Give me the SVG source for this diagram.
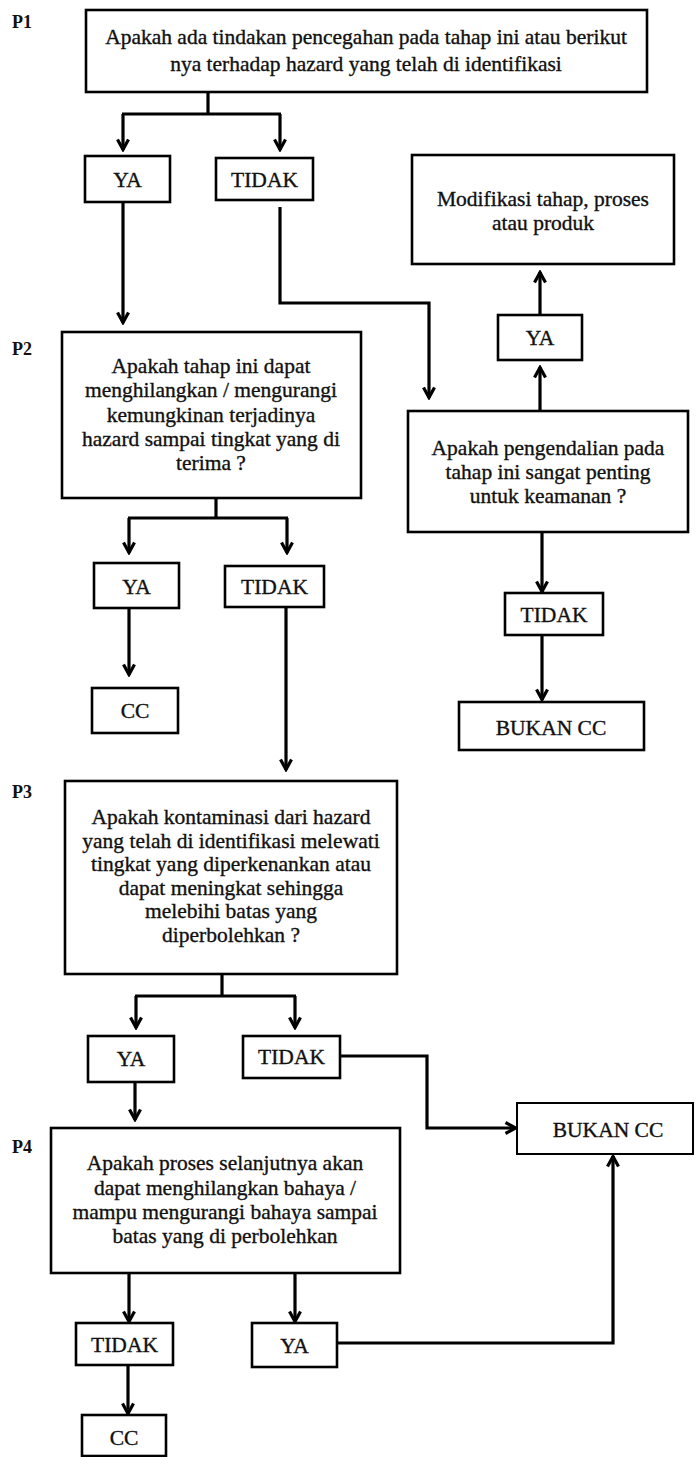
<svg xmlns="http://www.w3.org/2000/svg" width="696" height="1457" viewBox="0 0 696 1457">
<style>
.box{fill:#fff;stroke:#000;stroke-width:2.6}
.thin{fill:#fff;stroke:#000;stroke-width:2}
.t{font-family:"Liberation Serif","Times New Roman","DejaVu Serif",serif;font-size:21.5px;fill:#111;stroke:#111;stroke-width:0.35;text-anchor:middle}
.lbl{font-family:"Liberation Serif","Times New Roman","DejaVu Serif",serif;font-size:18px;font-weight:bold;fill:#111}
.c{fill:none;stroke:#000;stroke-width:3.2}
.a{fill:none;stroke:#000;stroke-width:3.2;marker-end:url(#arr)}
</style>
<defs>
<marker id="arr" markerUnits="userSpaceOnUse" viewBox="0 0 14 14" refX="12" refY="7" markerWidth="14" markerHeight="14" orient="auto">
<path d="M1.5,1.5 L11.5,7 L1.5,12.5" fill="none" stroke="#000" stroke-width="3.2"/>
</marker>
</defs>

<g id="labels">
<text class="lbl" x="12" y="28">P1</text>
<text class="lbl" x="12" y="355">P2</text>
<text class="lbl" x="12" y="798">P3</text>
<text class="lbl" x="12" y="1153">P4</text>
</g>

<g id="connectors">
<path class="c" d="M208,92 V114 M122,114 H281"/>
<path class="a" d="M123,114 V150"/>
<path class="a" d="M280,114 V150"/>
<path class="a" d="M123,202 V323"/>
<path class="a" d="M280,207 V303 H429 V398"/>
<path class="a" d="M540,315 V272"/>
<path class="a" d="M540,411 V367"/>
<path class="a" d="M542,532 V592"/>
<path class="a" d="M542,635 V700"/>
<path class="c" d="M216,498 V518 M128,518 H288"/>
<path class="a" d="M129,518 V553"/>
<path class="a" d="M287,518 V553"/>
<path class="a" d="M129,608 V675"/>
<path class="a" d="M286,607 V770"/>
<path class="c" d="M222,974 V996 M135,996 H296"/>
<path class="a" d="M136,996 V1028"/>
<path class="a" d="M295,996 V1028"/>
<path class="a" d="M340,1056 H427 V1128 H516"/>
<path class="a" d="M135,1082 V1120"/>
<path class="a" d="M129,1273 V1322"/>
<path class="a" d="M295,1273 V1322"/>
<path class="a" d="M337,1343 H613 V1156"/>
<path class="a" d="M128,1365 V1414"/>
</g>

<g id="q1">
<rect class="box" x="86" y="10" width="561" height="82"/>
<text class="t" x="366" y="44">Apakah ada tindakan pencegahan pada tahap ini atau berikut</text>
<text class="t" x="366" y="71">nya terhadap hazard yang telah di identifikasi</text>
</g>
<g id="q1-ya">
<rect class="box" x="85" y="156" width="85" height="46"/>
<text class="t" x="127.5" y="187">YA</text>
</g>
<g id="q1-tidak">
<rect class="box" x="216" y="158" width="97" height="42"/>
<text class="t" x="264.5" y="187">TIDAK</text>
</g>
<g id="modifikasi">
<rect class="box" x="412" y="155" width="262" height="109"/>
<text class="t" x="543" y="206">Modifikasi tahap, proses</text>
<text class="t" x="543" y="230">atau produk</text>
</g>
<g id="qr-ya">
<rect class="box" x="498" y="315" width="84" height="45"/>
<text class="t" x="540" y="345">YA</text>
</g>
<g id="qr">
<rect class="box" x="408" y="411" width="280" height="121"/>
<text class="t" x="548" y="455">Apakah pengendalian pada</text>
<text class="t" x="548" y="479">tahap ini sangat penting</text>
<text class="t" x="548" y="503">untuk keamanan ?</text>
</g>
<g id="qr-tidak">
<rect class="box" x="505" y="593" width="98" height="42"/>
<text class="t" x="554" y="622">TIDAK</text>
</g>
<g id="bukan-cc-1">
<rect class="box" x="459" y="702" width="185" height="48"/>
<text class="t" x="551" y="735">BUKAN CC</text>
</g>
<g id="q2">
<rect class="box" x="62" y="332" width="299" height="166"/>
<text class="t" x="211" y="373">Apakah tahap ini dapat</text>
<text class="t" x="211" y="397">menghilangkan / mengurangi</text>
<text class="t" x="211" y="422">kemungkinan terjadinya</text>
<text class="t" x="211" y="446">hazard sampai tingkat yang di</text>
<text class="t" x="211" y="470">terima ?</text>
</g>
<g id="q2-ya">
<rect class="box" x="94" y="563" width="85" height="45"/>
<text class="t" x="136.5" y="594">YA</text>
</g>
<g id="q2-tidak">
<rect class="box" x="225" y="566" width="99" height="41"/>
<text class="t" x="274.5" y="594">TIDAK</text>
</g>
<g id="cc-1">
<rect class="box" x="92" y="688" width="86" height="45"/>
<text class="t" x="135" y="718">CC</text>
</g>
<g id="q3">
<rect class="box" x="65" y="781" width="332" height="193"/>
<text class="t" x="231" y="824">Apakah kontaminasi dari hazard</text>
<text class="t" x="231" y="848">yang telah di identifikasi melewati</text>
<text class="t" x="231" y="871">tingkat yang diperkenankan atau</text>
<text class="t" x="231" y="895">dapat meningkat sehingga</text>
<text class="t" x="231" y="918">melebihi batas yang</text>
<text class="t" x="231" y="942">diperbolehkan ?</text>
</g>
<g id="q3-ya">
<rect class="box" x="88" y="1036" width="86" height="46"/>
<text class="t" x="131" y="1066">YA</text>
</g>
<g id="q3-tidak">
<rect class="box" x="243" y="1036" width="97" height="42"/>
<text class="t" x="291.5" y="1064">TIDAK</text>
</g>
<g id="bukan-cc-2">
<rect class="thin" x="517" y="1103" width="176" height="51"/>
<text class="t" x="608" y="1137">BUKAN CC</text>
</g>
<g id="q4">
<rect class="box" x="51" y="1128" width="349" height="145"/>
<text class="t" x="225" y="1170">Apakah proses selanjutnya akan</text>
<text class="t" x="225" y="1195">dapat menghilangkan bahaya /</text>
<text class="t" x="225" y="1219">mampu mengurangi bahaya sampai</text>
<text class="t" x="225" y="1243">batas yang di perbolehkan</text>
</g>
<g id="q4-tidak">
<rect class="box" x="76" y="1323" width="97" height="42"/>
<text class="t" x="124.5" y="1352">TIDAK</text>
</g>
<g id="q4-ya">
<rect class="box" x="252" y="1323" width="85" height="44"/>
<text class="t" x="294.5" y="1353">YA</text>
</g>
<g id="cc-2">
<rect class="box" x="82" y="1415" width="84" height="41"/>
<text class="t" x="124" y="1445">CC</text>
</g>
</svg>
